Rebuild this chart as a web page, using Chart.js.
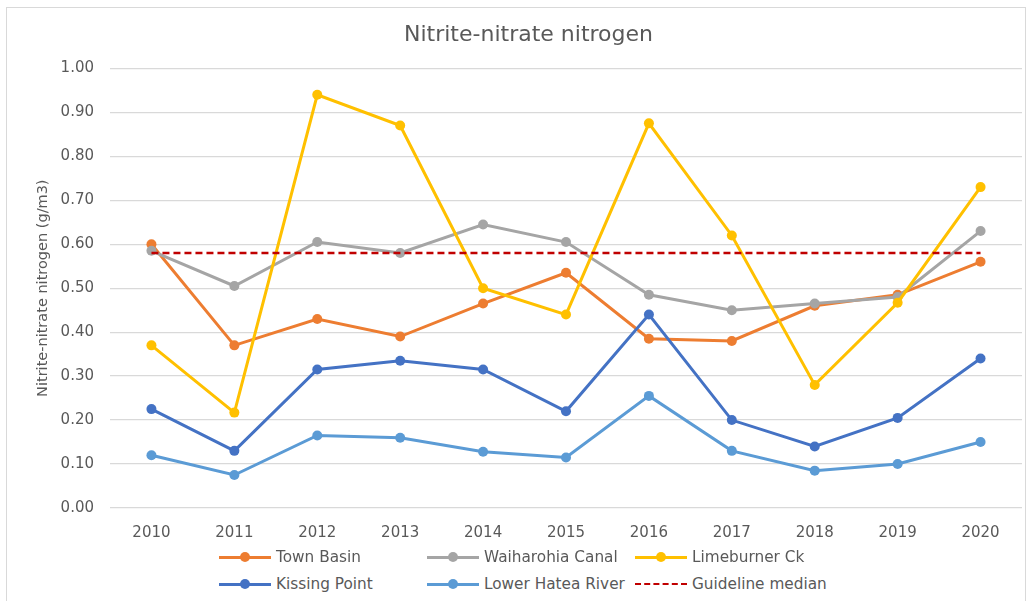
<!DOCTYPE html>
<html>
<head>
<meta charset="utf-8">
<script src="https://cdn.jsdelivr.net/npm/chart.js@4/dist/chart.umd.min.js"></script>
<style>
  html, body { margin: 0; padding: 0; background: #fff; }
  body { width: 1031px; height: 601px; position: relative; overflow: hidden;
         font-family: "DejaVu Sans", sans-serif; }
  .frame { position: absolute; left: 6px; top: 7px; width: 1020px; height: 610px;
           border: 1px solid #d9d9d9; box-sizing: border-box; }
  #chart { position: absolute; left: 0; top: 0; }
  .leg { position: absolute; height: 20px; display: flex; align-items: center;
         font-size: 15.3px; color: #595959; white-space: nowrap; }
  .leg .sw { position: relative; width: 52px; height: 20px; margin-right: 5px; }
  .leg .ln { position: absolute; left: 0; right: 0; top: 8.5px; height: 3px; }
  .leg .dot { position: absolute; left: 21px; top: 5px; width: 10px; height: 10px; border-radius: 50%; }
  .leg .dash { position: absolute; left: 0; right: 0; top: 9px; border-top: 2.5px dashed; }
</style>
</head>
<body>
<div class="frame"></div>
<canvas id="chart" width="1031" height="548"></canvas>
<div id="legend"></div>
<script>
// ===== 数据 =====
const years = ['2010', '2011', '2012', '2013', '2014', '2015', '2016', '2017', '2018', '2019', '2020'];
const townBasin      = [0.600, 0.370, 0.430, 0.390, 0.465, 0.535, 0.385, 0.380, 0.460, 0.485, 0.560];
const waiharohia     = [0.585, 0.505, 0.605, 0.580, 0.645, 0.605, 0.485, 0.450, 0.465, 0.480, 0.630];
const limeburner     = [0.370, 0.217, 0.940, 0.870, 0.500, 0.440, 0.875, 0.620, 0.280, 0.467, 0.730];
const kissingPoint   = [0.225, 0.130, 0.315, 0.335, 0.315, 0.220, 0.440, 0.200, 0.140, 0.205, 0.340];
const lowerHatea     = [0.120, 0.075, 0.165, 0.160, 0.128, 0.115, 0.255, 0.130, 0.085, 0.100, 0.150];
const guideline      = [0.58, 0.58, 0.58, 0.58, 0.58, 0.58, 0.58, 0.58, 0.58, 0.58, 0.58];
const yTicks = [0, 0.1, 0.2, 0.3, 0.4, 0.5, 0.6, 0.7, 0.8, 0.9, 1.0];

const series = [
  { label: 'Town Basin', data: townBasin, color: '#ed7d31' },
  { label: 'Waiharohia Canal', data: waiharohia, color: '#a5a5a5' },
  { label: 'Limeburner Ck', data: limeburner, color: '#ffc000' },
  { label: 'Kissing Point', data: kissingPoint, color: '#4472c4' },
  { label: 'Lower Hatea River', data: lowerHatea, color: '#5b9bd5' },
];
const guideColor = '#c00000';

const textColor = '#595959';
const font = 'DejaVu Sans, sans-serif';

// 后面的系列画在上面（order 越小越靠上）
const datasets = series.map((s, i) => ({
  label: s.label,
  data: s.data,
  borderColor: s.color,
  backgroundColor: s.color,
  borderWidth: 3,
  pointRadius: 5,
  pointHoverRadius: 5,
  pointBorderWidth: 0,
  tension: 0,
  order: 6 - i,
}));
datasets.push({
  label: 'Guideline median',
  data: guideline,
  borderColor: guideColor,
  borderWidth: 2.5,
  borderDash: [7, 4],
  pointRadius: 0,
  order: 0,
});

new Chart(document.getElementById('chart'), {
  type: 'line',
  data: { labels: years, datasets },
  options: {
    responsive: false,
    animation: false,
    layout: { padding: { top: 7, left: 35, right: 9, bottom: 0 } },
    plugins: {
      legend: { display: false },
      tooltip: { enabled: false },
      title: {
        display: true,
        text: 'Nitrite-nitrate nitrogen',
        color: textColor,
        font: { family: font, size: 22, weight: 'normal' },
        padding: { top: 15, bottom: 20 },
      },
    },
    scales: {
      x: {
        offset: true,
        grid: { display: false },
        border: { display: false },
        ticks: { color: textColor, font: { family: font, size: 15 }, padding: 8, maxRotation: 0 },
        afterFit: (s) => { s.height = 40; },
      },
      y: {
        min: 0,
        max: 1,
        afterBuildTicks: (s) => { s.ticks = yTicks.map((v) => ({ value: v })); },
        grid: { color: '#d9d9d9', lineWidth: 1.3, drawTicks: false },
        border: { display: false },
        ticks: {
          color: textColor,
          font: { family: font, size: 15 },
          padding: 16,
          callback: (v) => v.toFixed(2),
        },
        title: {
          display: true,
          text: 'Nitrite-nitrate nitrogen (g/m3)',
          color: textColor,
          font: { family: font, size: 14.5 },
          padding: { top: 0, bottom: 0 },
        },
        afterFit: (s) => { s.width = 75; },
      },
    },
  },
});

// ===== 图例：两行三列 =====
const legendItems = [
  ...series.map((s) => ({ label: s.label, color: s.color, dashed: false })),
  { label: 'Guideline median', color: guideColor, dashed: true },
];
const colX = [219, 427, 635];
const rowY = [547, 574];
const legend = document.getElementById('legend');
legendItems.forEach((it, i) => {
  const el = document.createElement('div');
  el.className = 'leg';
  el.style.left = colX[i % 3] + 'px';
  el.style.top = rowY[Math.floor(i / 3)] + 'px';
  const sw = it.dashed
    ? `<span class="sw"><span class="dash" style="border-color:${it.color}"></span></span>`
    : `<span class="sw"><span class="ln" style="background:${it.color}"></span><span class="dot" style="background:${it.color}"></span></span>`;
  el.innerHTML = sw + `<span>${it.label}</span>`;
  legend.appendChild(el);
});
</script>
</body>
</html>
